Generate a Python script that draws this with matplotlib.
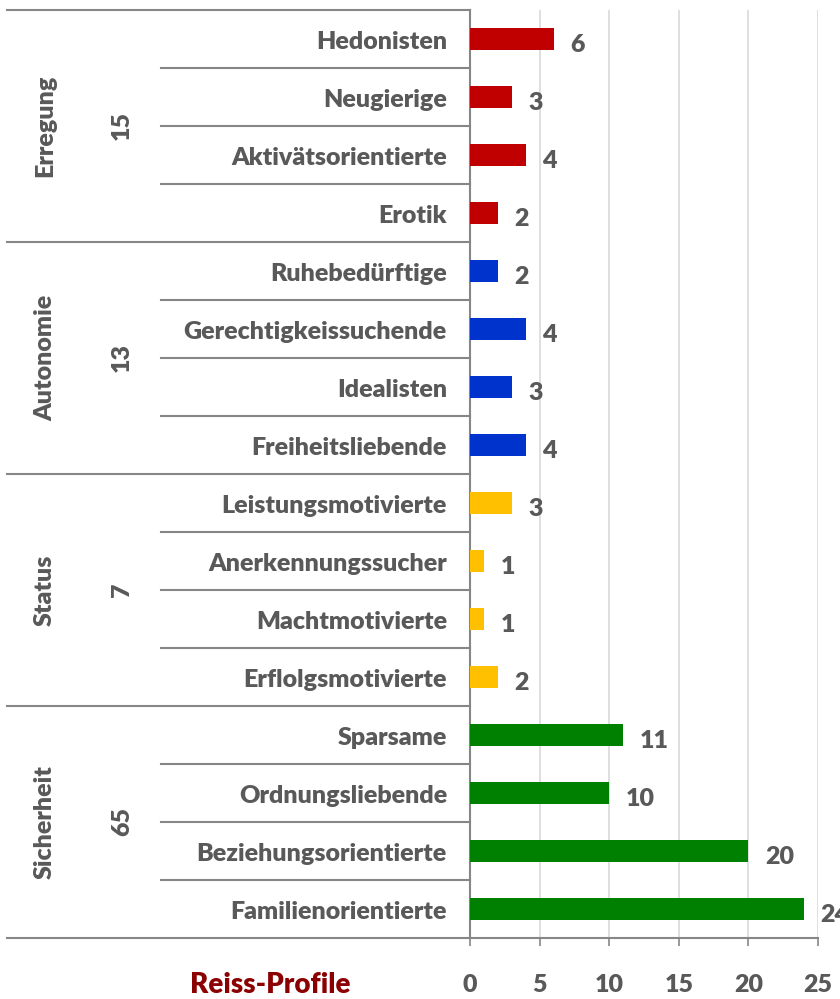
import numpy as np
import matplotlib
matplotlib.use("Agg")
import matplotlib.pyplot as plt

plt.rcParams['font.family'] = ['Lato', 'DejaVu Sans']

# data
groups = ["Erregung", "Autonomie", "Status", "Sicherheit"]
group_totals = [15, 13, 7, 65]
group_colors = ["#C00000", "#0033CC", "#FFC000", "#008000"]
profiles = [
    ["Hedonisten", "Neugierige", "Aktivätsorientierte", "Erotik"],
    ["Ruhebedürftige", "Gerechtigkeissuchende", "Idealisten", "Freiheitsliebende"],
    ["Leistungsmotivierte", "Anerkennungssucher", "Machtmotivierte", "Erflolgsmotivierte"],
    ["Sparsame", "Ordnungsliebende", "Beziehungsorientierte", "Familienorientierte"],
]
counts = [
    [6, 3, 4, 2],
    [2, 4, 3, 4],
    [3, 1, 1, 2],
    [11, 10, 20, 24],
]
xticks = [0, 5, 10, 15, 20, 25]

text_gray = "#595959"
line_gray = "#868686"
fs = 18
fw = "heavy"

fig = plt.figure(figsize=(8.4, 9.99), dpi=100)
ax = fig.add_axes([470 / 840, 1 - 938 / 999, 348 / 840, 928 / 999])

labels = [p for g in profiles for p in g]
values = [v for g in counts for v in g]
colors = [group_colors[i] for i, g in enumerate(profiles) for _ in g]
y = np.arange(len(labels))

ax.barh(y, values, height=0.38, color=colors, zorder=3)
for yi, v in zip(y, values):
    ax.annotate(str(v), (v, yi), xytext=(12, -4), textcoords="offset points",
                ha="left", va="center", fontsize=fs, fontweight=fw,
                color=text_gray, annotation_clip=False)

ax.set_xlim(0, 25)
ax.set_ylim(len(labels) - 0.5, -0.5)
ax.set_xticks(xticks)
ax.set_xticklabels([str(t) for t in xticks], fontsize=fs, fontweight=fw, color=text_gray)
ax.tick_params(axis="x", length=6, width=1.2, color=line_gray, pad=20)
ax.set_yticks([])
ax.grid(axis="x", color="#D9D9D9", linewidth=1.2, zorder=0)

for s in ["top", "right"]:
    ax.spines[s].set_visible(False)
for s in ["left", "bottom"]:
    ax.spines[s].set_color(line_gray)
    ax.spines[s].set_linewidth(1.5)

trans = ax.get_yaxis_transform()
row_x0 = (161 - 470) / 348
grp_x0 = (7 - 470) / 348

# category labels and separators
for yi, lab in zip(y, labels):
    ax.text(-23 / 348, yi + 0.05, lab, transform=trans, ha="right", va="center",
            fontsize=fs, fontweight=fw, color=text_gray)
for b in np.arange(0.5, len(labels) - 0.5, 1.0):
    if (b + 0.5) % 4 == 0:
        continue
    ax.plot([row_x0, 0], [b, b], transform=trans, color=line_gray,
            linewidth=1.5, clip_on=False)

# group labels, totals and separators
start = 0
for g, tot, items in zip(groups, group_totals, profiles):
    mid = start + (len(items) - 1) / 2
    ax.text((45 - 470) / 348, mid, g, transform=trans, rotation=90,
            ha="center", va="center", fontsize=fs, fontweight=fw, color=text_gray)
    ax.text((122 - 470) / 348, mid, str(tot), transform=trans, rotation=90,
            ha="center", va="center", fontsize=fs, fontweight=fw, color=text_gray)
    start += len(items)
for b in np.arange(-0.5, len(labels), 4.0):
    ax.plot([grp_x0, 0], [b, b], transform=trans, color=line_gray,
            linewidth=1.5, clip_on=False)

fig.text(270 / 840, 1 - 985 / 999, "Reiss-Profile", ha="center", va="center",
         fontsize=20, fontweight=fw, color="#8B0000")

fig.savefig("out.png", dpi=100, facecolor="white")
